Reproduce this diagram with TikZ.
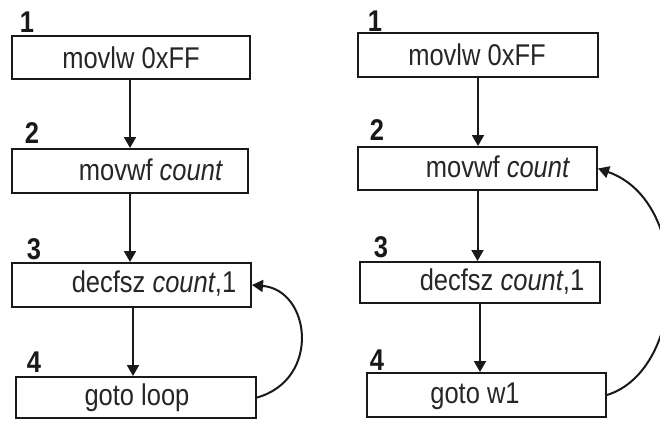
\documentclass[tikz,border=0pt]{standalone}
\usepackage{fontspec}
\setmainfont{Liberation Sans}[FakeStretch=0.85]
\usetikzlibrary{arrows.meta}

\tikzset{
  box/.style={draw=black!90, line width=2pt, rectangle, inner sep=0pt},
  code/.style={anchor=base, inner sep=0pt, font=\fontsize{30}{32}\selectfont, text=black!85},
  num/.style={anchor=base, inner sep=0pt, font=\fontsize{30}{32}\selectfont\bfseries, text=black!90},
  flow/.style={line width=2pt, draw=black!90, -{Triangle[width=12pt,length=11pt]}},
}

\begin{document}
\begin{tikzpicture}[x=1pt, y=-1pt]
\useasboundingbox (0,0) rectangle (660,420);

% left program: simple delay loop
\node[box, minimum width=238pt, minimum height=43pt] (L1) at (131,57.5) {};
\node[box, minimum width=236pt, minimum height=44pt] (L2) at (130,171) {};
\node[box, minimum width=239pt, minimum height=44pt] (L3) at (131.5,285) {};
\node[box, minimum width=240pt, minimum height=41pt] (L4) at (136,397.5) {};

\node[code] (L1t) at (131,68) {movlw 0xFF};
\node[code] (L2t) at (151,180) {movwf \textit{count}};
\node[code] (L3t) at (154,292) {decfsz \textit{count},1};
\node[code] (L4t) at (137,405) {goto loop};

\node[num] (L1n) at (27,33) {1};
\node[num] (L2n) at (32,143) {2};
\node[num] (L3n) at (34,259) {3};
\node[num] (L4n) at (34,372) {4};

\draw[flow] ([xshift=-1pt]L1.south) -- ([xshift=-1pt]L1.south |- L2.north);
\draw[flow] (L2.south) -- (L2.south |- L3.north);
\draw[flow] ([xshift=1.5pt]L3.south) -- ([xshift=1.5pt]L3.south |- L4.north);
\draw[flow] (L4.east) .. controls +(64,-18) and +(59,5) .. (L3.east);

% right program: reload and loop
\node[box, minimum width=240pt, minimum height=44pt] (R1) at (478,55) {};
\node[box, minimum width=239pt, minimum height=43pt] (R2) at (477.5,168.5) {};
\node[box, minimum width=240pt, minimum height=41pt] (R3) at (480,282.5) {};
\node[box, minimum width=239pt, minimum height=44pt] (R4) at (486.5,395) {};

\node[code] (R1t) at (477,65) {movlw 0xFF};
\node[code] (R2t) at (498,177) {movwf \textit{count}};
\node[code] (R3t) at (502,290) {decfsz \textit{count},1};
\node[code] (R4t) at (475,403) {goto w1};

\node[num] (R1n) at (375,32) {1};
\node[num] (R2n) at (377,140) {2};
\node[num] (R3n) at (381,257) {3};
\node[num] (R4n) at (377,370) {4};

\draw[flow] (R1.south) -- (R1.south |- R2.north);
\draw[flow] (R2.south) -- (R2.south |- R3.north);
\draw[flow] (R3.south) -- (R3.south |- R4.north);
\draw[flow] (R4.east) .. controls +(80,-25) and +(95,33) .. (R2.east);
\end{tikzpicture}
\end{document}
